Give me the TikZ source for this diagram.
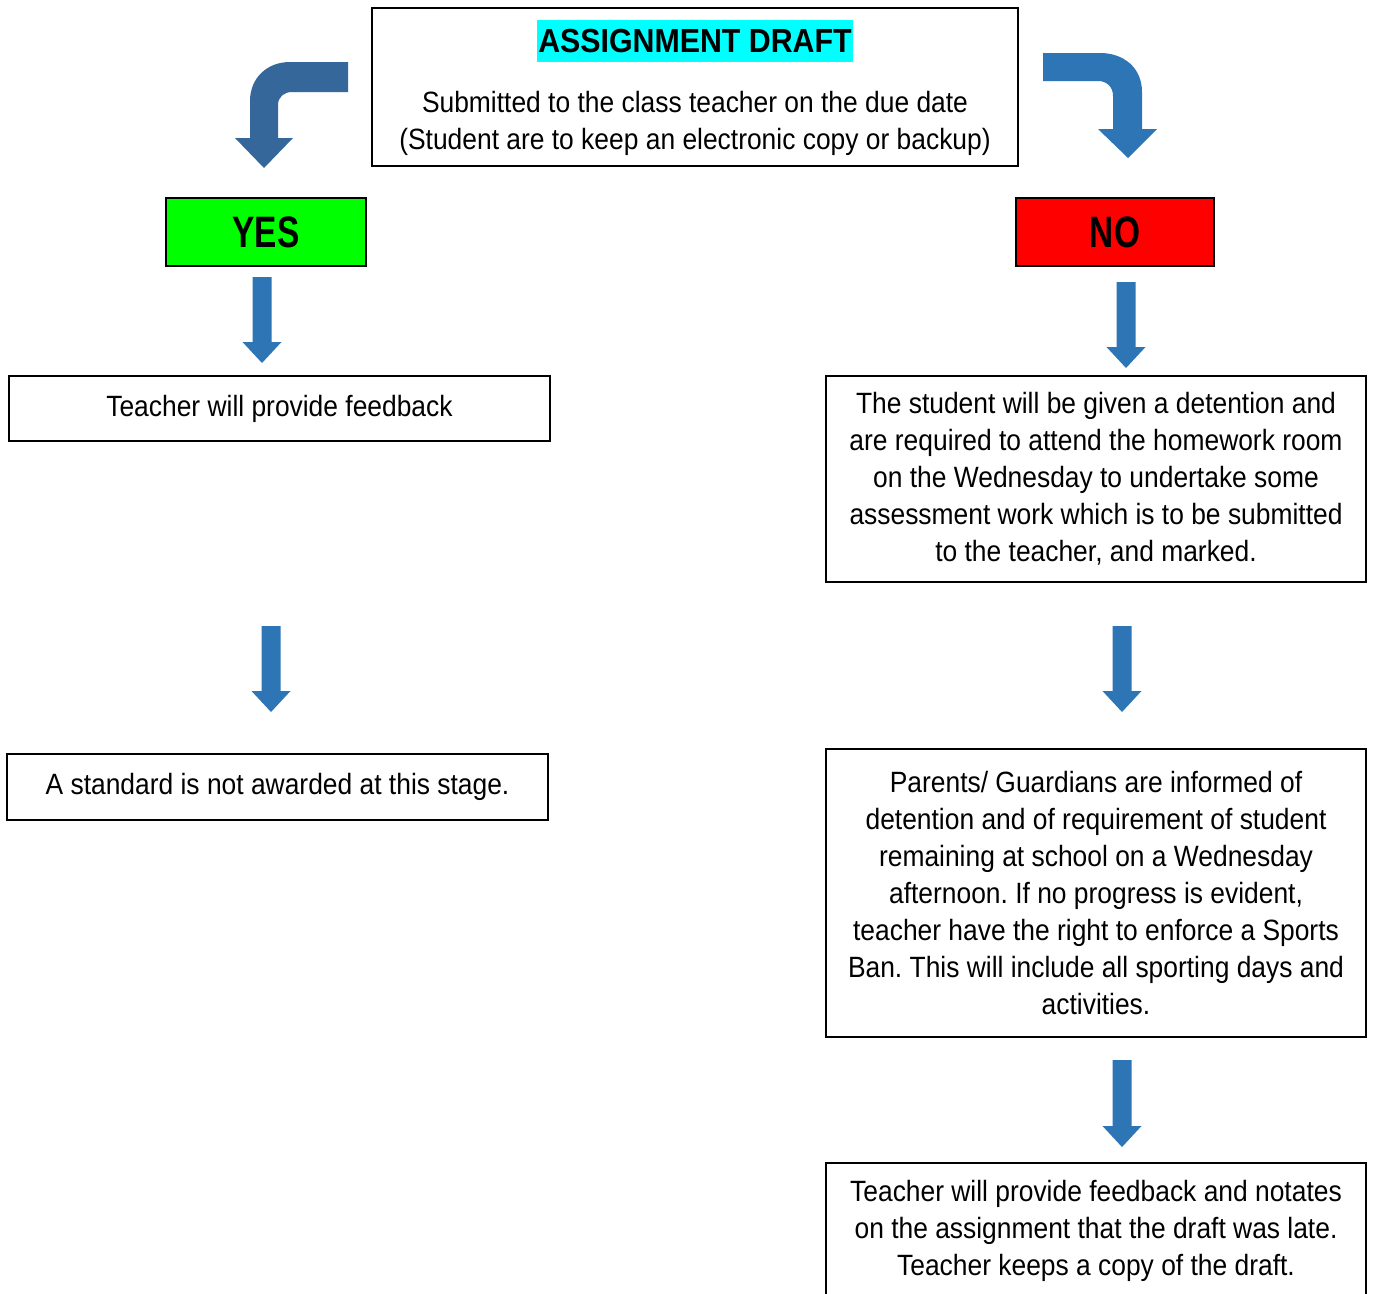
\documentclass[tikz,border=0pt]{standalone}
\usepackage{fontspec}
\setmainfont{Liberation Sans}
\newfontfamily\bodyfont{Liberation Sans}[FakeStretch=0.9]
\newfontfamily\titlefont{Liberation Sans Bold}[FakeStretch=0.91]
\newfontfamily\narrowbold{Liberation Sans Bold}[FakeStretch=0.76]
\definecolor{arrowblue}{HTML}{2E75B6}
\definecolor{arrowdark}{HTML}{35679B}
\definecolor{yesgreen}{HTML}{00FF00}
\definecolor{nored}{HTML}{FF0000}
\definecolor{titlecyan}{HTML}{00FFFF}
\frenchspacing
\tikzset{
  x=0.75pt, y=-0.75pt,
  box/.style={draw=black, line width=1.1pt, inner sep=0pt, align=center,
    font=\bodyfont\fontsize{22pt}{27.75pt}\selectfont},
  decision/.style={draw=black, line width=1.1pt, inner sep=0pt,
    font=\narrowbold\fontsize{33pt}{36pt}\selectfont},
  txt/.style={inner sep=0pt, align=center, font=\bodyfont\fontsize{22pt}{27.75pt}\selectfont},
  blockarrow/.style={fill=arrowblue, draw=none},
}
\newcommand{\blockdown}[3]{% x, ytop, ytip
  \fill[blockarrow] ({#1-9.5},#2) -- ({#1+9.5},#2) -- ({#1+9.5},{#3-21}) -- ({#1+19.5},{#3-21})
    -- (#1,#3) -- ({#1-19.5},{#3-21}) -- ({#1-9.5},{#3-21}) -- cycle;}
\begin{document}
\begin{tikzpicture}
\useasboundingbox (0,0) rectangle (1373,1293);
\clip (0,0) rectangle (1373,1293);
\fill[white] (0,0) rectangle (1373,1293);

% top box
\node[draw=black, line width=1.1pt, minimum width=484.5pt, minimum height=118.5pt, inner sep=0pt] (top) at (695,87) {};
\node[fill=titlecyan, minimum width=237pt, minimum height=31.5pt, inner sep=0pt,
  font=\titlefont\fontsize{25pt}{26pt}\selectfont] (title) at (695,41) {ASSIGNMENT DRAFT};
\node[txt] (sub) at (695,123.5) {Submitted to the class teacher on the due date\\(Student are to keep an electronic copy or backup)};

% curved arrows
\fill[arrowdark] (348,62) -- (290,62) .. controls (267,62) and (250,78) .. (250,101)
  -- (250,138) -- (235,138) -- (264,168) -- (293,138) -- (278,138) -- (278,105)
  .. controls (278,97) and (284,92) .. (292,92) -- (348,92) -- cycle;
\fill[arrowblue] (1043,53) -- (1100,53) .. controls (1124,53) and (1142,68) .. (1142,92)
  -- (1142,129) -- (1157,129) -- (1128,158) -- (1098,129) -- (1113,129) -- (1113,96)
  .. controls (1113,87) and (1107,81) .. (1098,81) -- (1043,81) -- cycle;

% decisions
\node[decision, fill=yesgreen, minimum width=150pt, minimum height=51pt] (yes) at (266,232) {\raisebox{-1.5pt}{YES}};
\node[decision, fill=nored, minimum width=148.5pt, minimum height=51pt] (no) at (1115,232) {\raisebox{-1.5pt}{NO}};

% left column
\node[box, minimum width=405.75pt, minimum height=48.75pt] (fb) at (279.5,408.5) {\raisebox{1.5pt}{Teacher will provide feedback}};
\node[box, minimum width=405.75pt, minimum height=49.5pt] (std) at (277.5,787) {A standard is not awarded at this stage.};

% right column
\node[box, minimum width=405pt, minimum height=154.5pt] (det) at (1096,479) {The student will be given a detention and\\are required to attend the homework room\\on the Wednesday to undertake some\\assessment work which is to be submitted\\to the teacher, and marked.};
\node[box, minimum width=405pt, minimum height=216pt] (par) at (1096,893) {Parents/ Guardians are informed of\\detention and of requirement of student\\remaining at school on a Wednesday\\afternoon. If no progress is evident,\\teacher have the right to enforce a Sports\\Ban. This will include all sporting days and\\activities.};
\node[box, minimum width=405pt, minimum height=102pt] (late) at (1096,1231) {Teacher will provide feedback and notates\\on the assignment that the draft was late.\\Teacher keeps a copy of the draft.};

% straight block arrows
\blockdown{262}{277}{363}
\blockdown{271}{626}{712}
\blockdown{1126}{282}{368}
\blockdown{1122}{626}{712}
\blockdown{1122}{1060}{1147}
\end{tikzpicture}
\end{document}
